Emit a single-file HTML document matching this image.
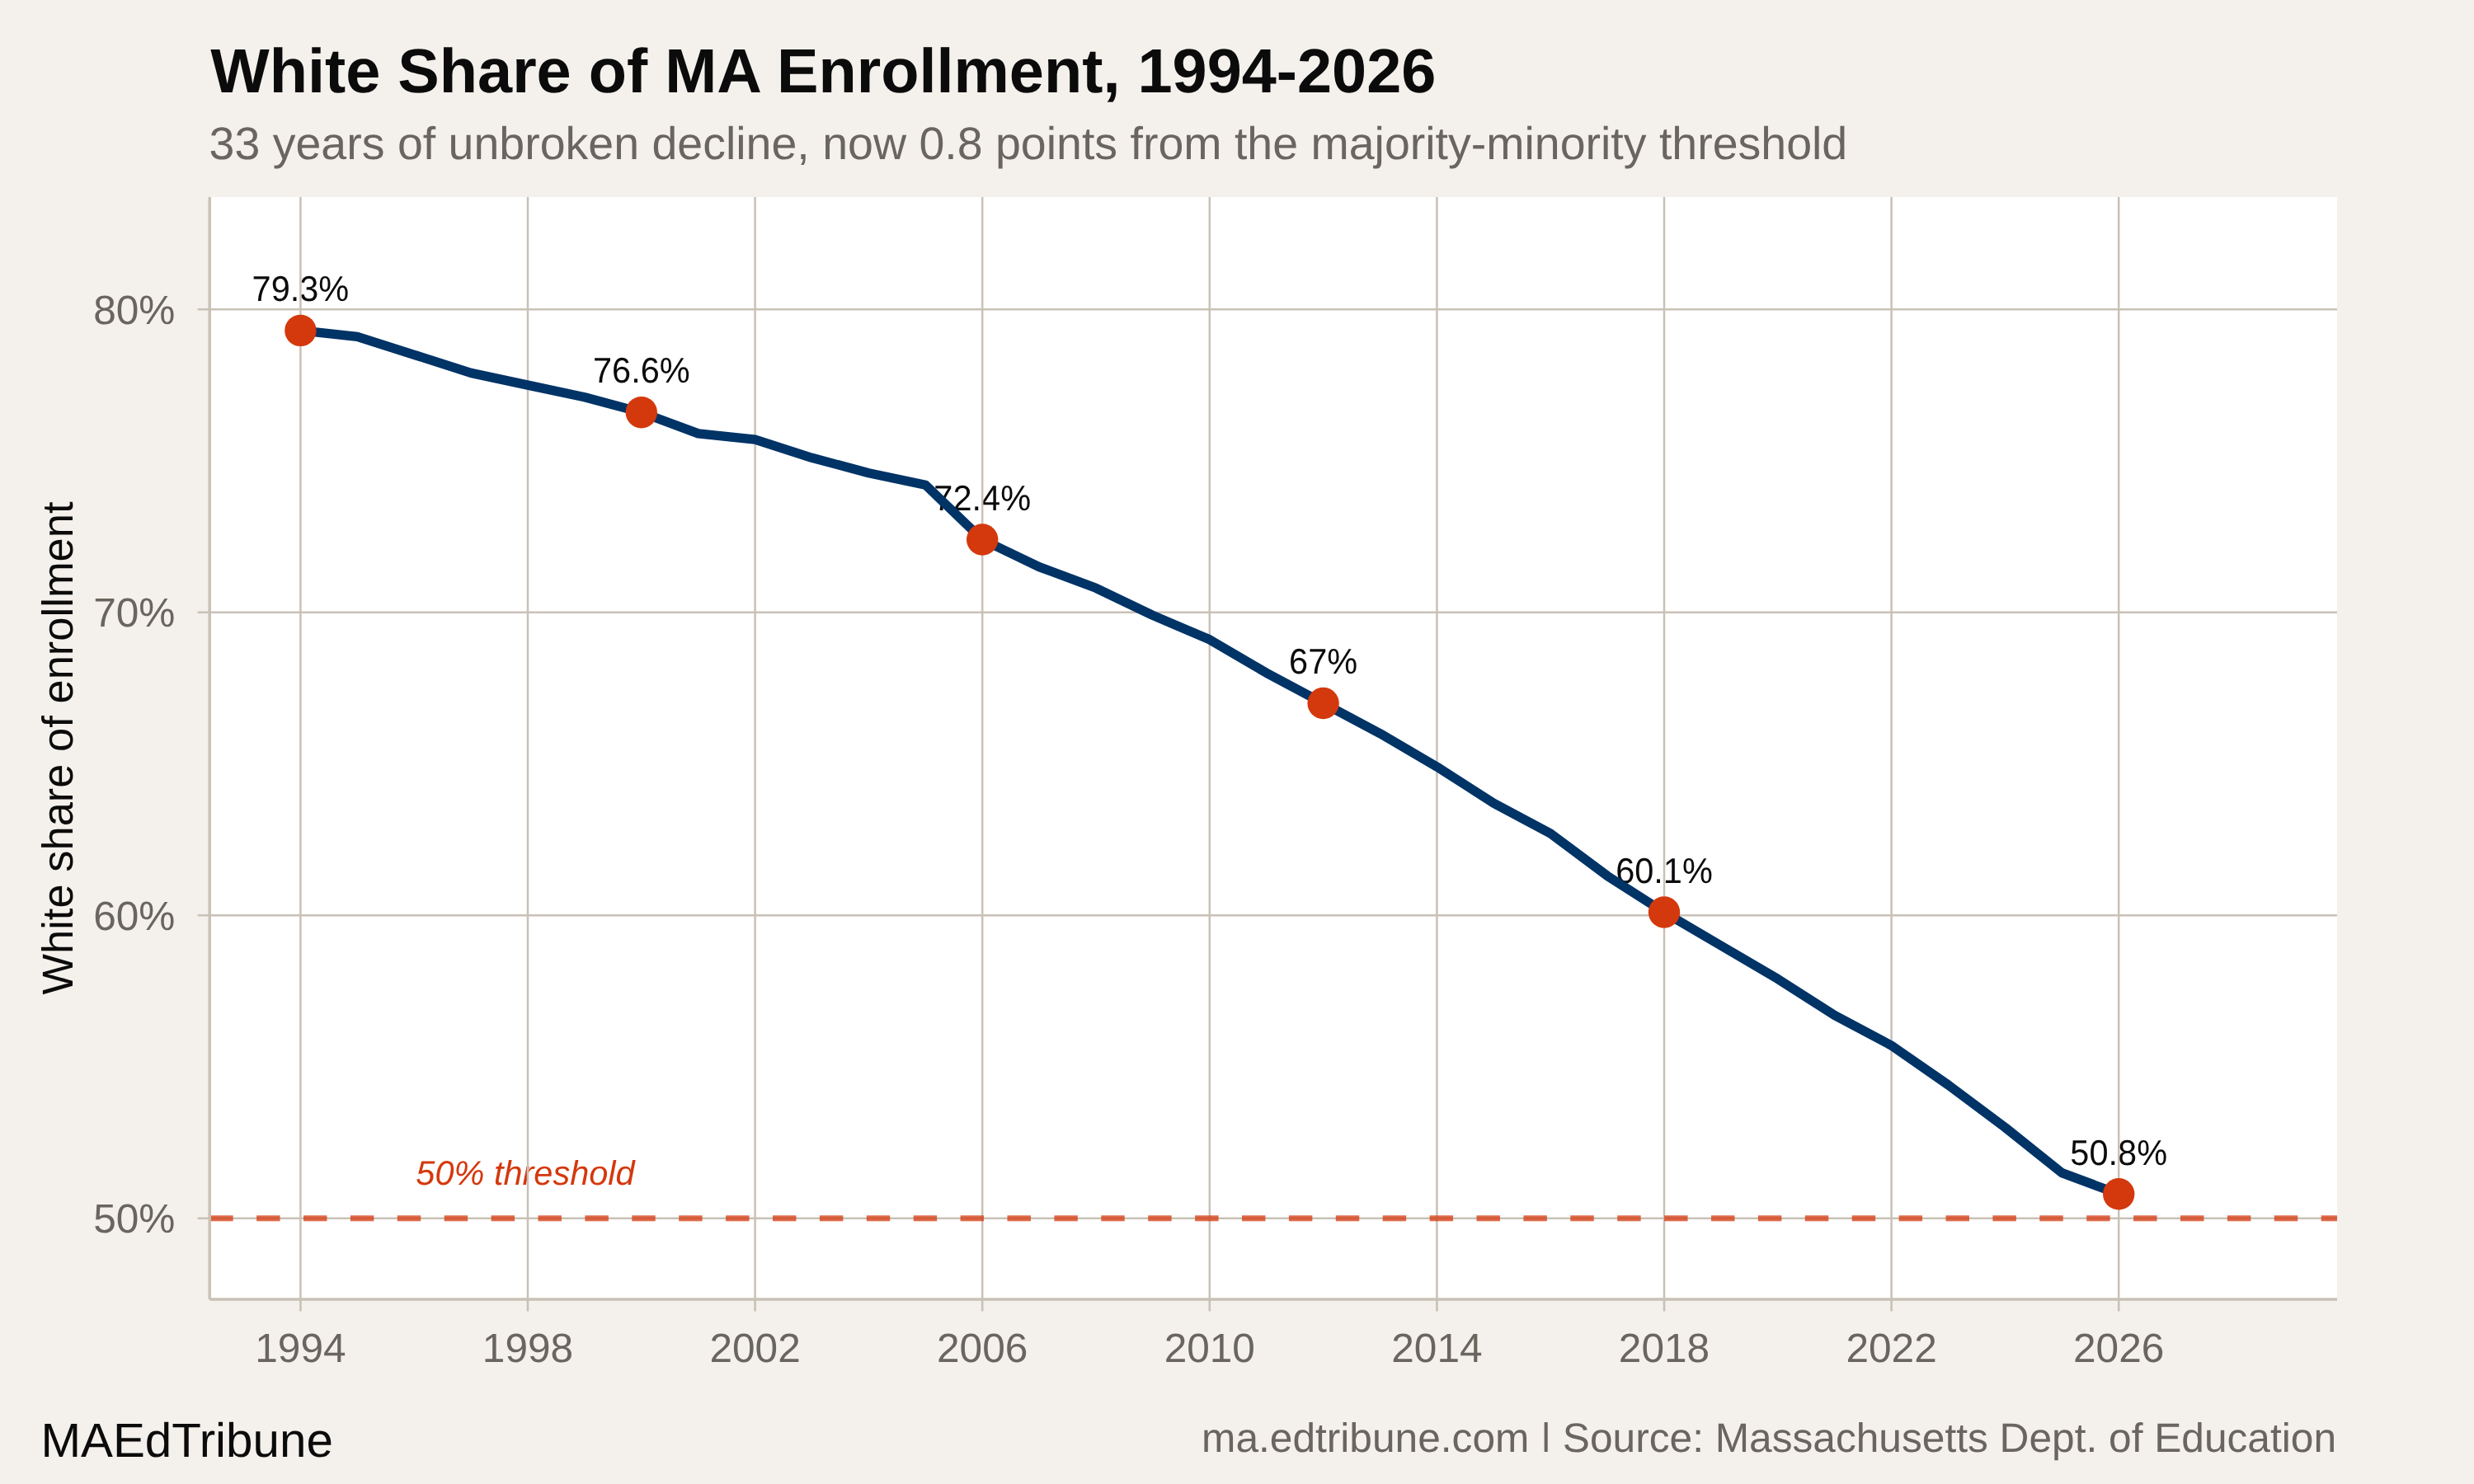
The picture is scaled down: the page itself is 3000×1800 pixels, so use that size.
<!DOCTYPE html><html><head><meta charset="utf-8"><title>White Share of MA Enrollment, 1994-2026</title>
<style>html,body{margin:0;padding:0;background:#F4F1EC;}body{width:3000px;height:1800px;overflow:hidden;}svg{display:block;will-change:transform;}text{font-family:"Liberation Sans", Arial, Helvetica, sans-serif;text-rendering:geometricPrecision;}</style></head><body>
<svg width="3000" height="1800" viewBox="0 0 3000 1800">
<rect x="0" y="0" width="3000" height="1800" fill="#F4F1EC"/>
<text x="255.3" y="112.3" font-size="75.7" font-weight="bold" fill="#0B0B0B">White Share of MA Enrollment, 1994-2026</text>
<text x="253.6" y="192.5" font-size="55.5" fill="#6A655E">33 years of unbroken decline, now 0.8 points from the majority-minority threshold</text>
<rect x="254.2" y="239.0" width="2579.8" height="1336.9" fill="#FFFFFF"/>
<text transform="translate(364.4,365.1) scale(1,1.04)" font-size="41.5" text-anchor="middle" fill="#0B0B0B">79.3%</text>
<text transform="translate(777.8,464.4) scale(1,1.04)" font-size="41.5" text-anchor="middle" fill="#0B0B0B">76.6%</text>
<text transform="translate(1191.2,618.7) scale(1,1.04)" font-size="41.5" text-anchor="middle" fill="#0B0B0B">72.4%</text>
<text transform="translate(1604.6,817.2) scale(1,1.04)" font-size="41.5" text-anchor="middle" fill="#0B0B0B">67%</text>
<text transform="translate(2018.0,1070.7) scale(1,1.04)" font-size="41.5" text-anchor="middle" fill="#0B0B0B">60.1%</text>
<text transform="translate(2569.2,1412.5) scale(1,1.04)" font-size="41.5" text-anchor="middle" fill="#0B0B0B">50.8%</text>
<text x="637.0" y="1437" font-size="41.5" font-style="italic" text-anchor="middle" fill="#D4380D">50% threshold</text>
<path d="M364.4 239.0V1575.9M640.0 239.0V1575.9M915.6 239.0V1575.9M1191.2 239.0V1575.9M1466.8 239.0V1575.9M1742.4 239.0V1575.9M2018.0 239.0V1575.9M2293.6 239.0V1575.9M2569.2 239.0V1575.9M254.2 1477.7H2834.0M254.2 1110.2H2834.0M254.2 742.7H2834.0M254.2 375.2H2834.0" stroke="#C9C1B6" stroke-width="2.5" fill="none"/>
<path d="M254.2 1477.7H2834.0" stroke="#D4380D" stroke-opacity="0.75" stroke-width="7" stroke-dasharray="28.45 28.45" fill="none"/>
<polyline points="364.4,400.9 433.3,408.3 502.2,430.3 571.1,452.4 640.0,467.1 708.9,481.8 777.8,500.2 846.7,525.9 915.6,533.2 984.5,555.3 1053.4,573.7 1122.3,588.3 1191.2,654.5 1260.1,687.6 1329.0,713.3 1397.9,746.4 1466.8,775.8 1535.7,816.2 1604.6,853.0 1673.5,889.7 1742.4,930.1 1811.3,974.2 1880.2,1011.0 1949.1,1062.4 2018.0,1106.5 2086.9,1147.0 2155.8,1187.4 2224.7,1231.5 2293.6,1268.2 2362.5,1316.0 2431.4,1367.5 2500.3,1422.6 2569.2,1448.3" stroke="#003366" stroke-width="11.3" stroke-linejoin="round" stroke-linecap="butt" fill="none"/>
<circle cx="364.4" cy="400.9" r="19.2" fill="#D4380D"/>
<circle cx="777.8" cy="500.2" r="19.2" fill="#D4380D"/>
<circle cx="1191.2" cy="654.5" r="19.2" fill="#D4380D"/>
<circle cx="1604.6" cy="853.0" r="19.2" fill="#D4380D"/>
<circle cx="2018.0" cy="1106.5" r="19.2" fill="#D4380D"/>
<circle cx="2569.2" cy="1448.3" r="19.2" fill="#D4380D"/>
<path d="M239.6 1477.7H254.2M239.6 1110.2H254.2M239.6 742.7H254.2M239.6 375.2H254.2M364.4 1575.9V1590.5M640.0 1575.9V1590.5M915.6 1575.9V1590.5M1191.2 1575.9V1590.5M1466.8 1575.9V1590.5M1742.4 1575.9V1590.5M2018.0 1575.9V1590.5M2293.6 1575.9V1590.5M2569.2 1575.9V1590.5" stroke="#C9C1B6" stroke-width="2.6" fill="none"/>
<path d="M254.2 239.0V1575.9M254.2 1575.9H2834.0" stroke="#C9C1B6" stroke-width="3.5" fill="none"/>
<text x="212.4" y="1495.3" font-size="49.58" text-anchor="end" fill="#6A655E">50%</text>
<text x="212.4" y="1127.8" font-size="49.58" text-anchor="end" fill="#6A655E">60%</text>
<text x="212.4" y="760.3" font-size="49.58" text-anchor="end" fill="#6A655E">70%</text>
<text x="212.4" y="392.8" font-size="49.58" text-anchor="end" fill="#6A655E">80%</text>
<text x="364.4" y="1652" font-size="49.58" text-anchor="middle" fill="#6A655E">1994</text>
<text x="640.0" y="1652" font-size="49.58" text-anchor="middle" fill="#6A655E">1998</text>
<text x="915.6" y="1652" font-size="49.58" text-anchor="middle" fill="#6A655E">2002</text>
<text x="1191.2" y="1652" font-size="49.58" text-anchor="middle" fill="#6A655E">2006</text>
<text x="1466.8" y="1652" font-size="49.58" text-anchor="middle" fill="#6A655E">2010</text>
<text x="1742.4" y="1652" font-size="49.58" text-anchor="middle" fill="#6A655E">2014</text>
<text x="2018.0" y="1652" font-size="49.58" text-anchor="middle" fill="#6A655E">2018</text>
<text x="2293.6" y="1652" font-size="49.58" text-anchor="middle" fill="#6A655E">2022</text>
<text x="2569.2" y="1652" font-size="49.58" text-anchor="middle" fill="#6A655E">2026</text>
<text transform="translate(88,907.5) rotate(-90)" x="0" y="0" font-size="52.5" text-anchor="middle" fill="#0B0B0B">White share of enrollment</text>
<text x="49.4" y="1767" font-size="58.33" fill="#0B0B0B">MAEdTribune</text>
<clipPath id="cc"><path clip-rule="evenodd" d="M1300 1690H2900V1800H1300Z M1864 1760.9H1886V1795H1864Z"/></clipPath>
<text clip-path="url(#cc)" x="2833" y="1760.8" font-size="49.65" text-anchor="end" fill="#6A655E">ma.edtribune.com | Source: Massachusetts Dept. of Education</text>
</svg></body></html>
